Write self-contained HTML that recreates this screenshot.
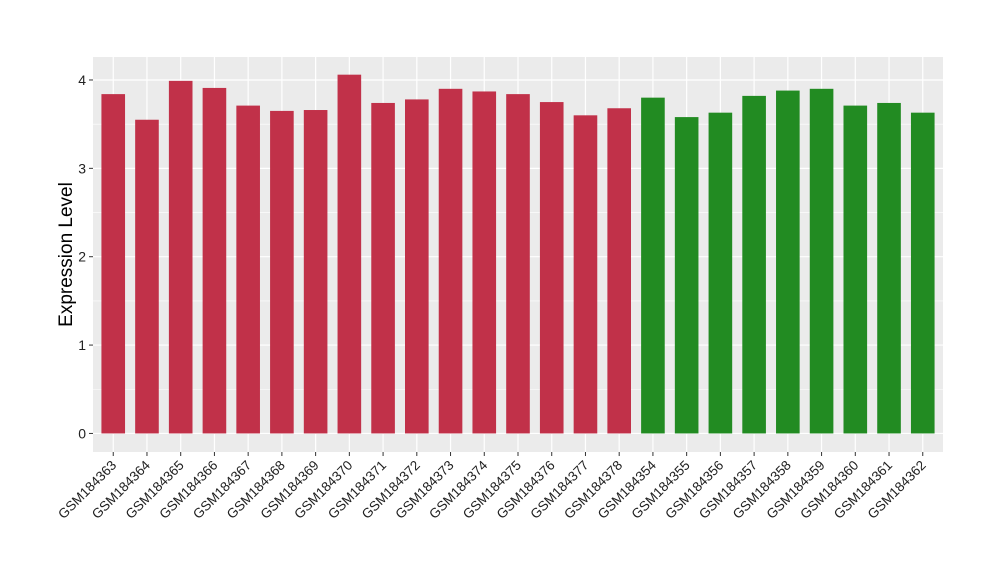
<!DOCTYPE html>
<html><head><meta charset="utf-8"><style>
body{margin:0;background:#fff;}
svg text{font-family:"Liberation Sans",Arial,sans-serif;}
</style></head><body>
<svg id="chart" width="1000" height="580" xmlns="http://www.w3.org/2000/svg"></svg>
<script>
const categories=["GSM184363","GSM184364","GSM184365","GSM184366","GSM184367","GSM184368","GSM184369","GSM184370","GSM184371","GSM184372","GSM184373","GSM184374","GSM184375","GSM184376","GSM184377","GSM184378","GSM184354","GSM184355","GSM184356","GSM184357","GSM184358","GSM184359","GSM184360","GSM184361","GSM184362"];
const values=[3.84,3.55,3.99,3.91,3.71,3.65,3.66,4.06,3.74,3.78,3.90,3.87,3.84,3.75,3.60,3.68,3.80,3.58,3.63,3.82,3.88,3.90,3.71,3.74,3.63];
const groups=["a","a","a","a","a","a","a","a","a","a","a","a","a","a","a","a","b","b","b","b","b","b","b","b","b"];
const yTicks=[0,1,2,3,4];
const colors={a:"#C13149",b:"#228B22"};
const svg=document.getElementById('chart');
const NS="http://www.w3.org/2000/svg";
const L=93,R=943,T=57,B=452,yMin=-0.21,yMax=4.26;
const n=categories.length;
const step=(R-L)/(n-1+1.2);
function x(i){return L+step*(0.6+i);}
function y(v){return B-(v-yMin)/(yMax-yMin)*(B-T);}
function el(tag,attrs,parent){const e=document.createElementNS(NS,tag);for(const k in attrs)e.setAttribute(k,attrs[k]);(parent||svg).appendChild(e);return e;}
const panel=el('rect',{x:L,y:T,width:R-L,height:B-T,fill:"#EBEBEB"});


for(let i=0;i<yTicks.length-1;i++){const v=yTicks[i]+0.5;el('line',{x1:L,x2:R,y1:y(v),y2:y(v),stroke:"#fff","stroke-width":0.6});}
yTicks.forEach(v=>{
 const g=el('line',{x1:L,x2:R,y1:y(v),y2:y(v),stroke:"#fff","stroke-width":1.2});
 
 
 el('line',{x1:L-4,x2:L,y1:y(v),y2:y(v),stroke:"#333","stroke-width":1});
 const t=el('text',{x:L-7,y:y(v)+5,"text-anchor":"end","font-size":14,fill:"#222"});
 t.textContent=v;
 
 
});
categories.forEach((c,i)=>{
 el('line',{x1:x(i),x2:x(i),y1:T,y2:B,stroke:"#fff","stroke-width":1.2});
});
const bw=step*0.7;
categories.forEach((c,i)=>{
 const r=el('rect',{x:x(i)-bw/2,y:y(values[i]),width:bw,height:y(0)-y(values[i]),fill:colors[groups[i]]});
 
 
 el('line',{x1:x(i),x2:x(i),y1:B,y2:B+4,stroke:"#333","stroke-width":1});
 const t=el('text',{x:x(i)+4,y:B+14,"text-anchor":"end","font-size":13.5,fill:"#222",transform:`rotate(-45 ${x(i)+4} ${B+14})`});
 t.textContent=c;
 
 
});
const yt=el('text',{x:72,y:(T+B)/2,"text-anchor":"middle","font-size":19,fill:"#000",transform:`rotate(-90 72 ${(T+B)/2})`});
yt.textContent="Expression Level";


</script>
</body></html>
